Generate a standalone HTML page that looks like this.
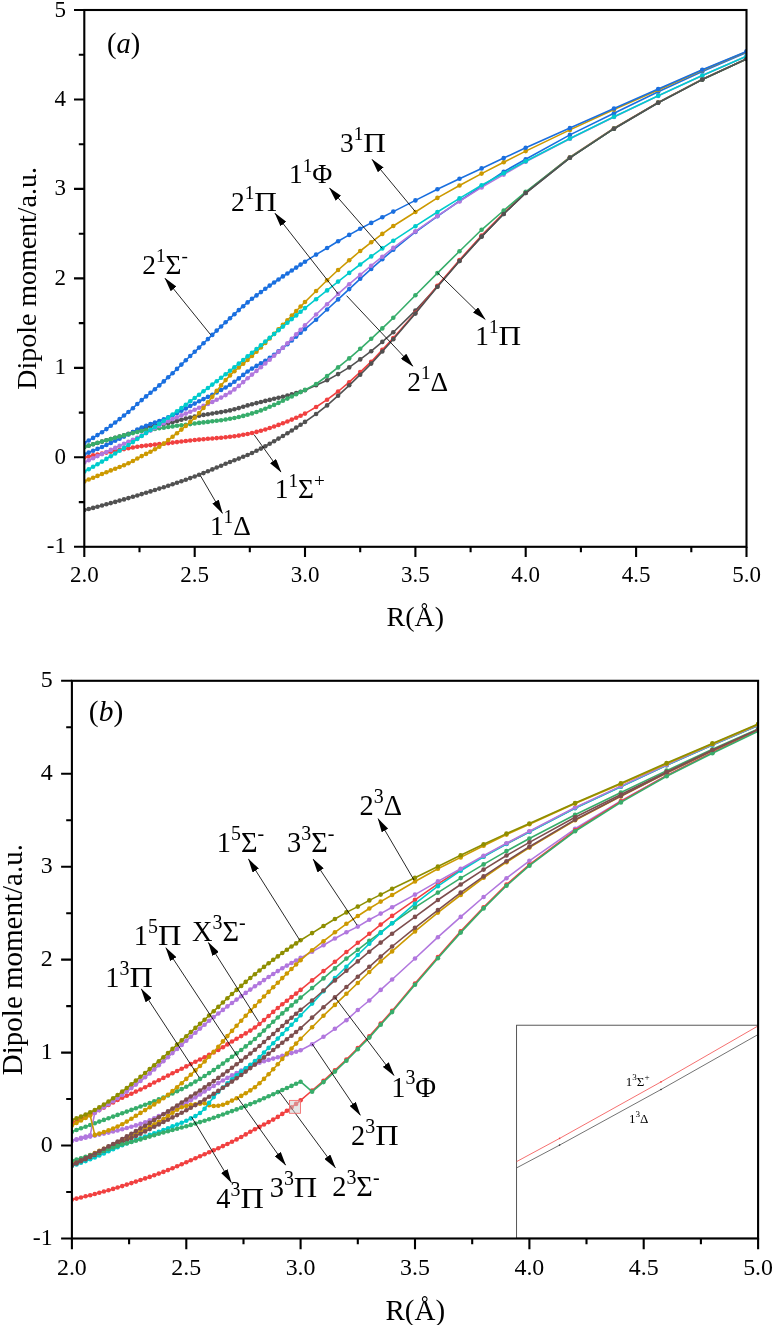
<!DOCTYPE html>
<html lang="en"><head><meta charset="utf-8"><title>Dipole moment curves</title>
<style>
html,body{margin:0;padding:0;background:#fff}
body{width:774px;height:1325px;overflow:hidden}
svg{display:block}
text{font-family:"Liberation Serif",serif;fill:#000}
.s{fill:none;stroke-width:1.6;stroke-linejoin:round}
.ax{stroke:#000;stroke-width:2.1;fill:none;stroke-linecap:butt}
.tk{font-size:23px}
.tkb{font-size:23.9px}
.ti{font-size:27.95px}
.tib{font-size:29px}
.lb{font-size:27.4px}
.lbb{font-size:28.4px}
.ar{stroke:#000;stroke-width:0.85;fill:none}
.in{font-size:13px}
</style></head><body>
<svg width="774" height="1325" viewBox="0 0 774 1325">
<rect width="774" height="1325" fill="#fff"/>
<defs>
<marker id="m_dg" markerUnits="userSpaceOnUse" markerWidth="6" markerHeight="6" refX="3" refY="3" viewBox="0 0 6 6"><circle cx="3" cy="3" r="2.3" fill="#515151"/></marker>
<marker id="m_red" markerUnits="userSpaceOnUse" markerWidth="6" markerHeight="6" refX="3" refY="3" viewBox="0 0 6 6"><circle cx="3" cy="3" r="2.3" fill="#F14040"/></marker>
<marker id="m_blue" markerUnits="userSpaceOnUse" markerWidth="6" markerHeight="6" refX="3" refY="3" viewBox="0 0 6 6"><circle cx="3" cy="3" r="2.3" fill="#1A6FDF"/></marker>
<marker id="m_green" markerUnits="userSpaceOnUse" markerWidth="6" markerHeight="6" refX="3" refY="3" viewBox="0 0 6 6"><circle cx="3" cy="3" r="2.3" fill="#37AD6B"/></marker>
<marker id="m_purple" markerUnits="userSpaceOnUse" markerWidth="6" markerHeight="6" refX="3" refY="3" viewBox="0 0 6 6"><circle cx="3" cy="3" r="2.3" fill="#B177DE"/></marker>
<marker id="m_gold" markerUnits="userSpaceOnUse" markerWidth="6" markerHeight="6" refX="3" refY="3" viewBox="0 0 6 6"><circle cx="3" cy="3" r="2.3" fill="#CC9900"/></marker>
<marker id="m_cyan" markerUnits="userSpaceOnUse" markerWidth="6" markerHeight="6" refX="3" refY="3" viewBox="0 0 6 6"><circle cx="3" cy="3" r="2.3" fill="#00CBCC"/></marker>
<marker id="m_brown" markerUnits="userSpaceOnUse" markerWidth="6" markerHeight="6" refX="3" refY="3" viewBox="0 0 6 6"><circle cx="3" cy="3" r="2.3" fill="#7D4E4E"/></marker>
<marker id="m_olive" markerUnits="userSpaceOnUse" markerWidth="6" markerHeight="6" refX="3" refY="3" viewBox="0 0 6 6"><circle cx="3" cy="3" r="2.3" fill="#8E8E00"/></marker>
<marker id="ah" markerUnits="userSpaceOnUse" markerWidth="14.2" markerHeight="7.4" refX="13.6" refY="3.7" viewBox="0 0 14.2 7.4" orient="auto"><path d="M0,0 L14.2,3.7 L0,7.4 Z" fill="#000"/></marker>
<clipPath id="ca"><rect x="84.3" y="10" width="662.2" height="536.8"/></clipPath>
<clipPath id="cb"><rect x="71.9" y="680.8" width="686.2" height="557.7"/></clipPath>
</defs>
<g id="panel-a">
<g clip-path="url(#ca)">
<polyline class="s" stroke="#515151" marker-start="url(#m_dg)" marker-mid="url(#m_dg)" marker-end="url(#m_dg)" points="84.3,447.1 88.7,445.7 93.1,444.3 97.5,443 102,441.6 106.4,440.3 110.8,439 115.2,437.8 119.6,436.5 124,435.2 128.4,433.7 132.9,432 137.3,430.3 141.7,428.6 146.1,427.2 150.5,426 154.9,425.2 159.3,424.5 163.8,423.9 168.2,423.1 172.6,422.1 177,421 181.4,419.8 185.8,418.6 190.2,417.5 194.7,416.5 199.1,415.7 203.5,414.9 207.9,414.2 212.3,413.5 216.7,412.8 221.1,412.1 225.6,411.3 230,410.4 234.4,409.3 238.8,408.1 243.2,406.7 247.6,405.4 252,404.2 256.5,403.1 260.9,402 265.3,400.9 269.7,399.9 274.1,398.8 278.5,397.8 282.9,396.7 287.4,395.5 291.8,394.3 296.2,393.1 300.6,391.7 305,390.2 316.1,385.3 327.1,380.2 338.1,374.1 349.2,367.4 360.2,359.4 371.2,351.2 382.3,341.9 393.3,332.2 415.4,310.6 437.4,286.6 459.5,261 481.6,236.6 503.7,214 525.7,193 569.9,157.8 614,128.7 658.2,102.8 702.3,79.6 746.5,59.1"/>
<polyline class="s" stroke="#F14040" marker-start="url(#m_red)" marker-mid="url(#m_red)" marker-end="url(#m_red)" points="84.3,457.5 88.7,456.5 93.1,455.4 97.5,454.5 102,453.5 106.4,452.6 110.8,451.7 115.2,450.8 119.6,449.9 124,449.1 128.4,448.3 132.9,447.5 137.3,446.7 141.7,446.1 146.1,445.6 150.5,445.1 154.9,444.6 159.3,444.1 163.8,443.7 168.2,443.2 172.6,442.6 177,442.1 181.4,441.5 185.8,441 190.2,440.5 194.7,440 199.1,439.6 203.5,439.2 207.9,438.8 212.3,438.5 216.7,438.1 221.1,437.7 225.6,437.3 230,436.8 234.4,436.2 238.8,435.6 243.2,434.8 247.6,434 252,433 256.5,431.9 260.9,430.8 265.3,429.5 269.7,428 274.1,426.5 278.5,424.9 282.9,423.2 287.4,421.5 291.8,419.6 296.2,417.7 300.6,415.7 305,413.6 316.1,407 327.1,399.7 338.1,391.5 349.2,382.2 360.2,372.1 371.2,361.7 382.3,349.9 393.3,338 415.4,312.7 437.4,285.8 459.5,260 481.6,235.6 503.7,213.1 525.7,192.3 569.9,157.2 614,128.2 658.2,102.4 702.3,79.3 746.5,58.9"/>
<polyline class="s" stroke="#1A6FDF" marker-start="url(#m_blue)" marker-mid="url(#m_blue)" marker-end="url(#m_blue)" points="84.3,454.3 88.7,452.6 93.1,450.8 97.5,448.9 102,447 106.4,445 110.8,442.9 115.2,440.8 119.6,438.7 124,436.6 128.4,434.4 132.9,432.1 137.3,429.6 141.7,427.5 146.1,425.7 150.5,424.1 154.9,422.6 159.3,421 163.8,419.3 168.2,417.4 172.6,415.3 177,413.1 181.4,410.7 185.8,408.4 190.2,406 194.7,403.6 199.1,401.3 203.5,399.1 207.9,396.9 212.3,394.7 216.7,392.4 221.1,390 225.6,387.5 230,384.8 234.4,381.8 238.8,378.4 243.2,374.9 247.6,371.5 252,368.6 256.5,365.9 260.9,363.4 265.3,360.8 269.7,357.9 274.1,354.7 278.5,351.4 282.9,347.8 287.4,344.2 291.8,340.4 296.2,336.6 300.6,332.8 305,329.1 316.1,319.7 327.1,309.5 338.1,299.4 349.2,289.1 360.2,278.8 371.2,268.9 382.3,259.2 393.3,249.8 415.4,232 437.4,216.3 459.5,201 481.6,186.5 503.7,171.7 525.7,159.2 569.9,134.9 614,113.2 658.2,91.8 702.3,71.5 746.5,52.5"/>
<polyline class="s" stroke="#37AD6B" marker-start="url(#m_green)" marker-mid="url(#m_green)" marker-end="url(#m_green)" points="84.3,447 88.7,445.6 93.1,444.2 97.5,442.8 102,441.5 106.4,440.2 110.8,439 115.2,437.7 119.6,436.5 124,435.4 128.4,434.2 132.9,433.1 137.3,432 141.7,431.1 146.1,430.3 150.5,429.6 154.9,428.9 159.3,428.3 163.8,427.7 168.2,427 172.6,426.4 177,425.8 181.4,425.2 185.8,424.7 190.2,424.1 194.7,423.5 199.1,422.9 203.5,422.4 207.9,421.9 212.3,421.3 216.7,420.8 221.1,420.2 225.6,419.5 230,418.8 234.4,418 238.8,417 243.2,415.9 247.6,414.7 252,413.4 256.5,412 260.9,410.4 265.3,408.7 269.7,406.8 274.1,404.9 278.5,402.9 282.9,400.8 287.4,398.6 291.8,396.5 296.2,394.3 300.6,392.1 305,389.9 316.1,384 327.1,376 338.1,367.4 349.2,358.4 360.2,348.8 371.2,338.8 382.3,328.4 393.3,317.8 415.4,295.2 437.4,273.1 459.5,251.2 481.6,229.8 503.7,210.5 525.7,191.8 569.9,157.5 614,128.5 658.2,102.6 702.3,79.4 746.5,58.9"/>
<polyline class="s" stroke="#B177DE" marker-start="url(#m_purple)" marker-mid="url(#m_purple)" marker-end="url(#m_purple)" points="84.3,462.4 88.7,460.3 93.1,458.2 97.5,456.1 102,454.1 106.4,452 110.8,449.9 115.2,447.9 119.6,445.8 124,443.8 128.4,441.7 132.9,439.7 137.3,437.7 141.7,435.5 146.1,433.1 150.5,430.6 154.9,428.1 159.3,425.6 163.8,423.3 168.2,421.1 172.6,419.1 177,417.2 181.4,415.4 185.8,413.6 190.2,411.7 194.7,409.8 199.1,407.8 203.5,405.9 207.9,403.9 212.3,401.9 216.7,399.8 221.1,397.6 225.6,395.1 230,392.5 234.4,389.4 238.8,385.9 243.2,382.1 247.6,378.3 252,374.6 256.5,370.9 260.9,367.2 265.3,363.5 269.7,359.7 274.1,355.8 278.5,351.8 282.9,347.7 287.4,343.3 291.8,338.8 296.2,334.3 300.6,329.7 305,325.3 316.1,314.5 327.1,304.2 338.1,293.9 349.2,284.2 360.2,274.9 371.2,265.7 382.3,256.7 393.3,247.9 415.4,231.4 437.4,215.9 459.5,201.4 481.6,187.4 503.7,174.6 525.7,161.8 569.9,138.8 614,117 658.2,95.9 702.3,75.6 746.5,56.3"/>
<polyline class="s" stroke="#CC9900" marker-start="url(#m_gold)" marker-mid="url(#m_gold)" marker-end="url(#m_gold)" points="84.3,481.4 88.7,479.5 93.1,477.7 97.5,475.9 102,474 106.4,472.2 110.8,470.4 115.2,468.7 119.6,467 124,465.2 128.4,463.2 132.9,461 137.3,458.5 141.7,456.1 146.1,453.9 150.5,451.7 154.9,449.3 159.3,446.7 163.8,443.6 168.2,440.1 172.6,436.7 177,433.2 181.4,429.6 185.8,425.9 190.2,422 194.7,417.8 199.1,413.1 203.5,408 207.9,402.4 212.3,396.7 216.7,390.9 221.1,385.4 225.6,380.1 230,375.4 234.4,371.2 238.8,367.5 243.2,363.8 247.6,360 252,355.9 256.5,351.7 260.9,347.4 265.3,343 269.7,338.5 274.1,333.9 278.5,329.4 282.9,324.8 287.4,320.2 291.8,315.6 296.2,311 300.6,306.5 305,302 316.1,291 327.1,280.3 338.1,270 349.2,260.3 360.2,251 371.2,242.3 382.3,233.9 393.3,226 415.4,212 437.4,197.9 459.5,185.5 481.6,173.6 503.7,162.2 525.7,151.1 569.9,129.9 614,109.6 658.2,90 702.3,70.3 746.5,51.8"/>
<polyline class="s" stroke="#00CBCC" marker-start="url(#m_cyan)" marker-mid="url(#m_cyan)" marker-end="url(#m_cyan)" points="84.3,471.6 88.7,469.2 93.1,466.7 97.5,464.2 102,461.6 106.4,458.9 110.8,456.2 115.2,453.5 119.6,450.7 124,447.9 128.4,445 132.9,442.1 137.3,439 141.7,436 146.1,433 150.5,430 154.9,427 159.3,423.9 163.8,420.8 168.2,417.7 172.6,414.5 177,411.3 181.4,408 185.8,404.7 190.2,401.3 194.7,398 199.1,394.7 203.5,391.3 207.9,388 212.3,384.6 216.7,381.2 221.1,377.8 225.6,374.3 230,370.8 234.4,367.2 238.8,363.6 243.2,360 247.6,356.3 252,352.7 256.5,349 260.9,345.3 265.3,341.5 269.7,337.8 274.1,334 278.5,330.3 282.9,326.6 287.4,322.8 291.8,319.1 296.2,315.4 300.6,311.7 305,308.1 316.1,299.2 327.1,290.4 338.1,281.6 349.2,272.9 360.2,264.5 371.2,256.4 382.3,248.4 393.3,240.7 415.4,226.2 437.4,212 459.5,198.4 481.6,185.3 503.7,173.3 525.7,161.3 569.9,138.5 614,116.8 658.2,95.7 702.3,75.5 746.5,56.2"/>
<polyline class="s" stroke="#515151" marker-start="url(#m_dg)" marker-mid="url(#m_dg)" marker-end="url(#m_dg)" points="84.3,510.1 88.7,509 93.1,507.9 97.5,506.7 102,505.5 106.4,504.3 110.8,503.1 115.2,501.9 119.6,500.6 124,499.4 128.4,498.1 132.9,496.8 137.3,495.5 141.7,494.1 146.1,492.8 150.5,491.4 154.9,490 159.3,488.6 163.8,487.2 168.2,485.8 172.6,484.3 177,482.8 181.4,481.3 185.8,479.7 190.2,478.1 194.7,476.5 199.1,474.8 203.5,473.1 207.9,471.3 212.3,469.4 216.7,467.5 221.1,465.7 225.6,463.8 230,462 234.4,460.3 238.8,458.6 243.2,456.8 247.6,455 252,453 256.5,450.8 260.9,448.6 265.3,446.2 269.7,443.8 274.1,441.2 278.5,438.6 282.9,436 287.4,433.2 291.8,430.5 296.2,427.6 300.6,424.8 305,421.9 316.1,414 327.1,405.4 338.1,395.7 349.2,385.3 360.2,374.7 371.2,363.6 382.3,351.5 393.3,339.2 415.4,313.6 437.4,286.8 459.5,261 481.6,236.6 503.7,214 525.7,193 569.9,157.8 614,128.7 658.2,102.8 702.3,79.6 746.5,59.1"/>
<polyline class="s" stroke="#1A6FDF" marker-start="url(#m_blue)" marker-mid="url(#m_blue)" marker-end="url(#m_blue)" points="84.3,443 88.7,440.5 93.1,437.9 97.5,435.1 102,432.2 106.4,429.1 110.8,425.8 115.2,422.5 119.6,419.1 124,415.5 128.4,412 132.9,408.2 137.3,404 141.7,400.1 146.1,396.4 150.5,392.8 154.9,389.2 159.3,385.4 163.8,381.4 168.2,377.3 172.6,373.2 177,368.9 181.4,364.6 185.8,360.3 190.2,356 194.7,351.8 199.1,347.6 203.5,343.3 207.9,339.1 212.3,334.9 216.7,330.6 221.1,326.5 225.6,322.3 230,318.3 234.4,314.2 238.8,310.1 243.2,306.2 247.6,302.4 252,298.8 256.5,295.4 260.9,292.1 265.3,288.8 269.7,285.6 274.1,282.5 278.5,279.5 282.9,276.4 287.4,273.5 291.8,270.5 296.2,267.6 300.6,264.6 305,261.7 316.1,254.6 327.1,248 338.1,241.3 349.2,234.9 360.2,228.7 371.2,222.9 382.3,217.2 393.3,211.6 415.4,200.4 437.4,189.3 459.5,178.7 481.6,168.4 503.7,158.1 525.7,147.7 569.9,128.1 614,108.5 658.2,89.1 702.3,69.8 746.5,51.4"/>
</g>
<line class="ar" x1="210.5" y1="334.6" x2="165" y2="278.3" marker-end="url(#ah)"/>
<line class="ar" x1="338.1" y1="293.8" x2="275" y2="213.3" marker-end="url(#ah)"/>
<line class="ar" x1="346.6" y1="295.7" x2="412.9" y2="366.2" marker-end="url(#ah)"/>
<line class="ar" x1="382.2" y1="248.4" x2="329.5" y2="188" marker-end="url(#ah)"/>
<line class="ar" x1="415.4" y1="211.7" x2="372.1" y2="159.4" marker-end="url(#ah)"/>
<line class="ar" x1="437.4" y1="272.6" x2="485.2" y2="319.4" marker-end="url(#ah)"/>
<line class="ar" x1="254" y1="434.6" x2="281" y2="472.1" marker-end="url(#ah)"/>
<line class="ar" x1="200.5" y1="475.8" x2="222.4" y2="513.3" marker-end="url(#ah)"/>
<rect class="ax" x="84.3" y="10" width="662.2" height="536.8"/>
<path class="ax" d="M84.3,546.8 h-10.3 M84.3,502.1 h-5.5 M84.3,457.3 h-10.3 M84.3,412.6 h-5.5 M84.3,367.9 h-10.3 M84.3,323.1 h-5.5 M84.3,278.4 h-10.3 M84.3,233.7 h-5.5 M84.3,188.9 h-10.3 M84.3,144.2 h-5.5 M84.3,99.5 h-10.3 M84.3,54.7 h-5.5 M84.3,10 h-10.3 M84.3,546.8 v10.3 M139.5,546.8 v5.5 M194.7,546.8 v10.3 M249.8,546.8 v5.5 M305,546.8 v10.3 M360.2,546.8 v5.5 M415.4,546.8 v10.3 M470.6,546.8 v5.5 M525.7,546.8 v10.3 M580.9,546.8 v5.5 M636.1,546.8 v10.3 M691.3,546.8 v5.5 M746.5,546.8 v10.3"/>
<text class="tk" text-anchor="end" x="66" y="553.3">-1</text>
<text class="tk" text-anchor="end" x="66" y="463.8">0</text>
<text class="tk" text-anchor="end" x="66" y="374.4">1</text>
<text class="tk" text-anchor="end" x="66" y="284.9">2</text>
<text class="tk" text-anchor="end" x="66" y="195.4">3</text>
<text class="tk" text-anchor="end" x="66" y="106">4</text>
<text class="tk" text-anchor="end" x="66" y="16.5">5</text>
<text class="tk" text-anchor="middle" x="84.3" y="582">2.0</text>
<text class="tk" text-anchor="middle" x="194.7" y="582">2.5</text>
<text class="tk" text-anchor="middle" x="305" y="582">3.0</text>
<text class="tk" text-anchor="middle" x="415.4" y="582">3.5</text>
<text class="tk" text-anchor="middle" x="525.7" y="582">4.0</text>
<text class="tk" text-anchor="middle" x="636.1" y="582">4.5</text>
<text class="tk" text-anchor="middle" x="746.5" y="582">5.0</text>
<text class="ti" text-anchor="middle" x="415.3" y="625.5">R(Å)</text>
<text class="ti" text-anchor="middle" transform="translate(36,278.4) rotate(-90)">Dipole moment/a.u.</text>
<text x="107" y="52.6" font-size="28.5">(<tspan font-style="italic">a</tspan>)</text>
<text class="lb" x="340" y="151.9">3<tspan dy="-11.8" font-size="19.2">1</tspan><tspan dy="11.8" textLength="22.6" lengthAdjust="spacingAndGlyphs">Π</tspan></text>
<text class="lb" x="289" y="183.3">1<tspan dy="-11.8" font-size="19.2">1</tspan><tspan dy="11.8">Φ</tspan></text>
<text class="lb" x="231" y="210.8">2<tspan dy="-11.8" font-size="19.2">1</tspan><tspan dy="11.8" textLength="22.6" lengthAdjust="spacingAndGlyphs">Π</tspan></text>
<text class="lb" x="142.3" y="274">2<tspan dy="-11.8" font-size="19.2">1</tspan><tspan dy="11.8">Σ</tspan><tspan dy="-11.8" font-size="19.2">-</tspan></text>
<text class="lb" x="475.3" y="344.9">1<tspan dy="-11.8" font-size="19.2">1</tspan><tspan dy="11.8" textLength="22.6" lengthAdjust="spacingAndGlyphs">Π</tspan></text>
<text class="lb" x="407.3" y="391.2">2<tspan dy="-11.8" font-size="19.2">1</tspan><tspan dy="11.8">Δ</tspan></text>
<text class="lb" x="274.8" y="498.3">1<tspan dy="-11.8" font-size="19.2">1</tspan><tspan dy="11.8">Σ</tspan><tspan dy="-11.8" font-size="19.2">+</tspan></text>
<text class="lb" x="209.9" y="534.7">1<tspan dy="-11.8" font-size="19.2">1</tspan><tspan dy="11.8">Δ</tspan></text>
</g>
<g id="panel-b">
<g clip-path="url(#cb)">
<polyline class="s" stroke="#F14040" marker-start="url(#m_red)" marker-mid="url(#m_red)" marker-end="url(#m_red)" points="71.9,1122.8 76.5,1120.9 81,1118.9 85.6,1116.9 90.2,1114.7 94.8,1112.5 99.3,1110.1 103.9,1107.6 108.5,1105 113.1,1102.4 117.6,1100 122.2,1097.8 126.8,1095.7 131.4,1093.7 135.9,1091.6 140.5,1089.5 145.1,1087.2 149.7,1084.9 154.2,1082.5 158.8,1080.2 163.4,1077.9 168,1075.6 172.5,1073.3 177.1,1071 181.7,1068.7 186.3,1066.4 190.8,1064.1 195.4,1061.8 200,1059.5 204.6,1057.2 209.1,1054.8 213.7,1052.4 218.3,1049.9 222.9,1047.2 227.4,1044.4 232,1041.5 236.6,1038.8 241.2,1036.1 245.7,1033.4 250.3,1030.6 254.9,1027.5 259.5,1024 264,1020.1 268.6,1016 273.2,1011.9 277.8,1008 282.3,1004.3 286.9,1000.7 291.5,997.1 296.1,993.6 300.6,989.9 312.1,980.4 323.5,971.1 334.9,961.8 346.4,952 357.8,942.8 369.3,933.8 380.7,924.6 392.1,915.9 415,899.8 437.9,883.9 460.7,869.8 483.6,856.4 506.5,843.8 529.4,831.8 575.1,808 620.9,786.6 666.6,765.2 712.4,745 758.1,725.5"/>
<polyline class="s" stroke="#37AD6B" marker-start="url(#m_green)" marker-mid="url(#m_green)" marker-end="url(#m_green)" points="71.9,1131.7 76.5,1130 81,1128.3 85.6,1126.7 90.2,1125 94.8,1123.3 99.3,1121.6 103.9,1119.9 108.5,1118.3 113.1,1116.6 117.6,1114.9 122.2,1113.2 126.8,1111.6 131.4,1109.9 135.9,1108.2 140.5,1106.5 145.1,1104.8 149.7,1103 154.2,1101.2 158.8,1099.4 163.4,1097.5 168,1095.5 172.5,1093.4 177.1,1091.3 181.7,1089.1 186.3,1086.7 190.8,1084.2 195.4,1081.6 200,1078.9 204.6,1076 209.1,1073.1 213.7,1070.1 218.3,1066.9 222.9,1063.6 227.4,1060.2 232,1056.8 236.6,1053.4 241.2,1050 245.7,1046.4 250.3,1042.8 254.9,1039 259.5,1034.9 264,1030.6 268.6,1026.2 273.2,1021.8 277.8,1017.5 282.3,1013.4 286.9,1009.4 291.5,1005.4 296.1,1001.5 300.6,997.6 312.1,988.1 323.5,978.4 334.9,968.4 346.4,958.6 357.8,949.8 369.3,940.8 380.7,932.4 392.1,923.3 415,907.4 437.9,892.6 460.7,878.1 483.6,864.4 506.5,851.1 529.4,838.5 575.1,814.7 620.9,792.5 666.6,770.6 712.4,749.3 758.1,729"/>
<polyline class="s" stroke="#B177DE" marker-start="url(#m_purple)" marker-mid="url(#m_purple)" marker-end="url(#m_purple)" points="71.9,1140.7 76.5,1139.7 81,1138.7 85.6,1137.7 90.2,1136.6 94.8,1135.6 99.3,1134.6 103.9,1133.6 108.5,1132.6 113.1,1131.5 117.6,1130.4 122.2,1129.2 126.8,1128 131.4,1126.8 135.9,1125.4 140.5,1123.9 145.1,1122.2 149.7,1120.3 154.2,1118.2 158.8,1116.1 163.4,1114 168,1111.9 172.5,1109.8 177.1,1107.7 181.7,1105.4 186.3,1103 190.8,1100.3 195.4,1097.5 200,1094.5 204.6,1091.5 209.1,1088.6 213.7,1085.9 218.3,1083.1 222.9,1080.5 227.4,1077.9 232,1075.4 236.6,1073 241.2,1070.5 245.7,1068.2 250.3,1066.1 254.9,1064.2 259.5,1062.7 264,1061.3 268.6,1059.9 273.2,1058.6 277.8,1057.2 282.3,1055.8 286.9,1054.5 291.5,1053.1 296.1,1051.8 300.6,1050.2 312.1,1044.2 323.5,1036.8 334.9,1028.8 346.4,1020.2 357.8,1010 369.3,1000.5 380.7,989.9 392.1,979.5 415,958.5 437.9,937.2 460.7,916.9 483.6,897 506.5,878.2 529.4,860.8 575.1,828.8 620.9,801 666.6,775.4 712.4,752.4 758.1,730.4"/>
<polyline class="s" stroke="#CC9900" marker-start="url(#m_gold)" marker-mid="url(#m_gold)" marker-end="url(#m_gold)" points="71.9,1164 76.5,1161.7 81,1159.5 85.6,1157.3 90.2,1155.1 94.8,1153 99.3,1150.9 103.9,1148.9 108.5,1146.9 113.1,1144.9 117.6,1142.8 122.2,1140.6 126.8,1138.4 131.4,1136.1 135.9,1133.8 140.5,1131.4 145.1,1129 149.7,1126.7 154.2,1124.2 158.8,1121.7 163.4,1119 168,1115.9 172.5,1112.7 177.1,1109.7 181.7,1107.2 186.3,1106 190.8,1104.9 195.4,1104.3 200,1103.7 204.6,1103.3 209.1,1105.3 213.7,1106 218.3,1105.8 222.9,1104.7 227.4,1102.9 232,1100.6 236.6,1098.3 241.2,1095.9 245.7,1093.3 250.3,1090.4 254.9,1087.2 259.5,1083.3 264,1078.9 268.6,1074.3 273.2,1069.3 277.8,1064.2 282.3,1058.9 286.9,1053.6 291.5,1048.5 296.1,1043.6 300.6,1038.8 312.1,1027.2 323.5,1015.7 334.9,1004.9 346.4,993.8 357.8,983 369.3,972 380.7,961.4 392.1,951.4 415,931.4 437.9,912.6 460.7,895 483.6,877.8 506.5,862.2 529.4,847.6 575.1,820.2 620.9,796.4 666.6,773.1 712.4,750.9 758.1,730"/>
<polyline class="s" stroke="#00CBCC" marker-start="url(#m_cyan)" marker-mid="url(#m_cyan)" marker-end="url(#m_cyan)" points="71.9,1166 76.5,1164.4 81,1162.8 85.6,1161.1 90.2,1159.3 94.8,1157.5 99.3,1155.5 103.9,1153.5 108.5,1151.3 113.1,1149.2 117.6,1147.2 122.2,1145.3 126.8,1143.5 131.4,1141.7 135.9,1139.9 140.5,1138.2 145.1,1136.5 149.7,1134.9 154.2,1133.3 158.8,1131.7 163.4,1130 168,1128.2 172.5,1126.4 177.1,1124.6 181.7,1122.7 186.3,1120.8 190.8,1118.4 195.4,1116.1 200,1113 204.6,1108.8 209.1,1102.9 213.7,1097.1 218.3,1092 222.9,1087.6 227.4,1083.4 232,1079.3 236.6,1075.3 241.2,1071.6 245.7,1068.2 250.3,1064.8 254.9,1061.1 259.5,1057 264,1052.5 268.6,1047.9 273.2,1043.2 277.8,1038.6 282.3,1034 286.9,1029.3 291.5,1024.7 296.1,1020 300.6,1015.3 312.1,1003.6 323.5,991.2 334.9,978 346.4,966.8 357.8,955 369.3,943.8 380.7,932.9 392.1,923.3 415,903.7 437.9,886.2 460.7,870.7 483.6,856.8 506.5,844 529.4,832 575.1,808.2 620.9,786.8 666.6,765.3 712.4,745 758.1,725.5"/>
<polyline class="s" stroke="#7D4E4E" marker-start="url(#m_brown)" marker-mid="url(#m_brown)" marker-end="url(#m_brown)" points="71.9,1165.5 76.5,1163.4 81,1161.3 85.6,1159.2 90.2,1157.1 94.8,1155 99.3,1152.9 103.9,1150.8 108.5,1148.7 113.1,1146.6 117.6,1144.5 122.2,1142.4 126.8,1140.2 131.4,1138.1 135.9,1135.9 140.5,1133.7 145.1,1131.4 149.7,1129.1 154.2,1126.7 158.8,1124.4 163.4,1122 168,1119.7 172.5,1117.4 177.1,1115.1 181.7,1112.8 186.3,1110.3 190.8,1107.7 195.4,1105.1 200,1102.3 204.6,1099.5 209.1,1096.7 213.7,1093.8 218.3,1090.9 222.9,1087.8 227.4,1084.8 232,1081.6 236.6,1078.3 241.2,1075 245.7,1071.6 250.3,1068.1 254.9,1064.6 259.5,1061 264,1057.4 268.6,1053.7 273.2,1050 277.8,1046.3 282.3,1042.7 286.9,1039.2 291.5,1035.7 296.1,1032 300.6,1028.2 312.1,1017.6 323.5,1007.2 334.9,997.4 346.4,987 357.8,976.7 369.3,966.8 380.7,956.6 392.1,946.5 415,927.8 437.9,910.1 460.7,892.6 483.6,876.4 506.5,861.2 529.4,846.8 575.1,819.7 620.9,796 666.6,772.8 712.4,750.6 758.1,729.8"/>
<polyline class="s" stroke="#F14040" marker-start="url(#m_red)" marker-mid="url(#m_red)" marker-end="url(#m_red)" points="71.9,1199.6 76.5,1198.6 81,1197.5 85.6,1196.3 90.2,1195.2 94.8,1194 99.3,1192.8 103.9,1191.5 108.5,1190.2 113.1,1188.9 117.6,1187.5 122.2,1186.1 126.8,1184.6 131.4,1183.1 135.9,1181.6 140.5,1180 145.1,1178.4 149.7,1176.9 154.2,1175.3 158.8,1173.6 163.4,1171.9 168,1170.1 172.5,1168.2 177.1,1166.3 181.7,1164.3 186.3,1162.3 190.8,1160.3 195.4,1158.3 200,1156.3 204.6,1154.2 209.1,1152.2 213.7,1150.2 218.3,1148.2 222.9,1146.1 227.4,1144 232,1141.8 236.6,1139.4 241.2,1137 245.7,1134.4 250.3,1131.8 254.9,1129.3 259.5,1126.9 264,1124.5 268.6,1122.1 273.2,1119.6 277.8,1116.9 282.3,1113.9 286.9,1110.8 291.5,1107.4 296.1,1103.9 300.6,1100.3 312.1,1090.5 323.5,1080.9 334.9,1070.4 346.4,1059.5 357.8,1048 369.3,1036.4 380.7,1023.6 392.1,1010.9 415,983.5 437.9,957 460.7,931.4 483.6,907.2 506.5,884.6 529.4,864.7 575.1,830.3 620.9,801.4 666.6,775.7 712.4,752.6 758.1,730.6"/>
<polyline class="s" stroke="#37AD6B" marker-start="url(#m_green)" marker-mid="url(#m_green)" marker-end="url(#m_green)" points="71.9,1160.7 76.5,1159.5 81,1158.2 85.6,1156.8 90.2,1155.4 94.8,1154 99.3,1152.4 103.9,1150.8 108.5,1149.1 113.1,1147.4 117.6,1145.9 122.2,1144.5 126.8,1143.2 131.4,1142 135.9,1140.7 140.5,1139.4 145.1,1138 149.7,1136.6 154.2,1135.2 158.8,1133.8 163.4,1132.5 168,1131.2 172.5,1130 177.1,1128.7 181.7,1127.5 186.3,1126.2 190.8,1124.9 195.4,1123.5 200,1122.1 204.6,1120.7 209.1,1119.2 213.7,1117.7 218.3,1116.1 222.9,1114.5 227.4,1112.8 232,1111.1 236.6,1109.4 241.2,1107.7 245.7,1105.9 250.3,1104.1 254.9,1102.2 259.5,1100.3 264,1098.3 268.6,1096.2 273.2,1094.2 277.8,1092.1 282.3,1090 286.9,1088 291.5,1085.9 296.1,1083.8 300.6,1081.7 312.1,1091.7 323.5,1082.1 334.9,1071.6 346.4,1060.7 357.8,1049.2 369.3,1037.6 380.7,1024.8 392.1,1012.1 415,984.7 437.9,958.2 460.7,932.6 483.6,908.4 506.5,885.8 529.4,865.7 575.1,831.3 620.9,802.4 666.6,776.3 712.4,753.2 758.1,731.2"/>
<polyline class="s" stroke="#B177DE" marker-start="url(#m_purple)" marker-mid="url(#m_purple)" marker-end="url(#m_purple)" points="71.9,1140.7 76.5,1139.3 81,1137.9 85.6,1136.5 90.2,1135.2 94.8,1112.9 99.3,1110.1 103.9,1107.2 108.5,1104.3 113.1,1101.2 117.6,1098.1 122.2,1094.9 126.8,1091.6 131.4,1088.1 135.9,1084.6 140.5,1081 145.1,1077.3 149.7,1073.4 154.2,1069.4 158.8,1065.3 163.4,1061.3 168,1057.2 172.5,1053.1 177.1,1049 181.7,1044.9 186.3,1040.8 190.8,1036.7 195.4,1032.7 200,1028.6 204.6,1024.7 209.1,1020.8 213.7,1017.1 218.3,1013.5 222.9,1009.9 227.4,1006.4 232,1003 236.6,999.6 241.2,996.3 245.7,992.9 250.3,989.6 254.9,986.3 259.5,983.2 264,980.1 268.6,977 273.2,974 277.8,971.1 282.3,968.3 286.9,965.6 291.5,963 296.1,960.5 300.6,957.9 312.1,951.7 323.5,945.2 334.9,938.5 346.4,932.3 357.8,926.6 369.3,919.8 380.7,913.6 392.1,907.2 415,894.6 437.9,881.4 460.7,868.8 483.6,855.8 506.5,843.3 529.4,831.3 575.1,807.5 620.9,786.1 666.6,764.7 712.4,744.5 758.1,725"/>
<polyline class="s" stroke="#CC9900" marker-start="url(#m_gold)" marker-mid="url(#m_gold)" marker-end="url(#m_gold)" points="71.9,1125.5 76.5,1123 81,1120.5 85.6,1118 90.2,1115.5 94.8,1134.9 99.3,1133.6 103.9,1132.1 108.5,1130.4 113.1,1128.5 117.6,1126.5 122.2,1124.2 126.8,1121.6 131.4,1118.7 135.9,1115.8 140.5,1112.9 145.1,1110.1 149.7,1107.3 154.2,1104.4 158.8,1101.4 163.4,1098.3 168,1094.8 172.5,1091.1 177.1,1087.2 181.7,1083.2 186.3,1078.9 190.8,1074.7 195.4,1070.4 200,1066 204.6,1061.5 209.1,1056.8 213.7,1051.8 218.3,1046.7 222.9,1041.4 227.4,1036.1 232,1030.9 236.6,1025.8 241.2,1020.8 245.7,1015.8 250.3,1010.9 254.9,1006 259.5,1001.2 264,996.5 268.6,991.9 273.2,987.3 277.8,982.7 282.3,978.1 286.9,973.5 291.5,969 296.1,964.5 300.6,960.2 312.1,950.2 323.5,941.2 334.9,932.3 346.4,923.8 357.8,916 369.3,908.5 380.7,901.6 392.1,895 415,881.5 437.9,868.8 460.7,857.4 483.6,845.7 506.5,834.6 529.4,824.3 575.1,803.6 620.9,783.9 666.6,763.7 712.4,744 758.1,724.6"/>
<polyline class="s" stroke="#7D4E4E" marker-start="url(#m_brown)" marker-mid="url(#m_brown)" marker-end="url(#m_brown)" points="71.9,1164.6 76.5,1162.5 81,1160.3 85.6,1158 90.2,1155.8 94.8,1153.5 99.3,1151.2 103.9,1148.8 108.5,1146.4 113.1,1144 117.6,1141.5 122.2,1139 126.8,1136.4 131.4,1133.8 135.9,1131.1 140.5,1128.4 145.1,1125.7 149.7,1122.9 154.2,1120 158.8,1117.2 163.4,1114.3 168,1111.4 172.5,1108.5 177.1,1105.5 181.7,1102.5 186.3,1099.5 190.8,1096.5 195.4,1093.5 200,1090.5 204.6,1087.4 209.1,1084.3 213.7,1081.1 218.3,1077.9 222.9,1074.6 227.4,1071.2 232,1067.8 236.6,1064.3 241.2,1060.8 245.7,1057.2 250.3,1053.5 254.9,1049.8 259.5,1046 264,1042 268.6,1038 273.2,1034 277.8,1030 282.3,1026 286.9,1021.9 291.5,1017.8 296.1,1013.7 300.6,1009.8 312.1,1000.5 323.5,990.5 334.9,980.4 346.4,970.8 357.8,961.4 369.3,951.7 380.7,942.6 392.1,933.7 415,916.9 437.9,900 460.7,884.5 483.6,869.6 506.5,855.5 529.4,842.4 575.1,817.2 620.9,794.5 666.6,771.9 712.4,750 758.1,729.5"/>
<polyline class="s" stroke="#8E8E00" marker-start="url(#m_olive)" marker-mid="url(#m_olive)" marker-end="url(#m_olive)" points="71.9,1120 76.5,1118.4 81,1116.6 85.6,1114.5 90.2,1112.3 94.8,1110 99.3,1107.4 103.9,1104.6 108.5,1101.5 113.1,1098.3 117.6,1095 122.2,1091.6 126.8,1088 131.4,1084.3 135.9,1080.6 140.5,1076.8 145.1,1073 149.7,1069.1 154.2,1065.2 158.8,1061.2 163.4,1057.2 168,1053.1 172.5,1048.9 177.1,1044.6 181.7,1040.4 186.3,1036.2 190.8,1032.1 195.4,1027.9 200,1023.8 204.6,1019.7 209.1,1015.5 213.7,1011.2 218.3,1006.9 222.9,1002.5 227.4,998.2 232,994 236.6,989.9 241.2,985.9 245.7,981.9 250.3,978 254.9,974.2 259.5,970.5 264,966.9 268.6,963.3 273.2,959.8 277.8,956.4 282.3,953 286.9,949.7 291.5,946.5 296.1,943.4 300.6,940.3 312.1,933.1 323.5,926 334.9,919 346.4,912.4 357.8,906.6 369.3,900.4 380.7,894.6 392.1,888.8 415,877.7 437.9,866.5 460.7,855.2 483.6,844.3 506.5,833.6 529.4,823.6 575.1,803 620.9,783.3 666.6,763.1 712.4,743.4 758.1,724"/>
</g>
<line class="ar" x1="414.1" y1="880.2" x2="378.1" y2="818.7" marker-end="url(#ah)"/>
<line class="ar" x1="299.9" y1="940.4" x2="248.5" y2="859.1" marker-end="url(#ah)"/>
<line class="ar" x1="357" y1="925" x2="313.1" y2="859.1" marker-end="url(#ah)"/>
<line class="ar" x1="240.1" y1="1060.3" x2="165.9" y2="947.8" marker-end="url(#ah)"/>
<line class="ar" x1="258.5" y1="1021.5" x2="208.4" y2="942.6" marker-end="url(#ah)"/>
<line class="ar" x1="199.2" y1="1077.4" x2="141.3" y2="988.9" marker-end="url(#ah)"/>
<line class="ar" x1="335" y1="997.4" x2="394" y2="1075.4" marker-end="url(#ah)"/>
<line class="ar" x1="312.2" y1="1044" x2="360.3" y2="1115.2" marker-end="url(#ah)"/>
<line class="ar" x1="279.3" y1="1091.6" x2="335.4" y2="1167.7" marker-end="url(#ah)"/>
<line class="ar" x1="237.5" y1="1097.5" x2="285.6" y2="1165.1" marker-end="url(#ah)"/>
<line class="ar" x1="191.5" y1="1116.8" x2="231.3" y2="1182.6" marker-end="url(#ah)"/>
<rect x="516.6" y="1025.2" width="241.5" height="213" fill="#fff" stroke="#3a3a3a" stroke-width="0.85"/>
<polyline fill="none" stroke="#F14040" stroke-width="0.75" points="516.6,1161.6 559.6,1138.4 661,1081.9 757.6,1026.2"/>
<polyline fill="none" stroke="#444" stroke-width="0.75" points="516.6,1167.9 559.6,1145.1 661,1089.5 757.6,1034.8"/>
<circle cx="559.6" cy="1138.4" r="0.8" fill="#F14040"/><circle cx="661" cy="1081.9" r="0.8" fill="#F14040"/><circle cx="559.6" cy="1145.1" r="0.8" fill="#333"/><circle cx="661" cy="1089.5" r="0.8" fill="#333"/>
<text class="in" x="625.8" y="1085.8">1<tspan dy="-5.6" font-size="9.1">3</tspan><tspan dy="5.6">Σ</tspan><tspan dy="-5.6" font-size="9.1">+</tspan></text>
<text class="in" x="629" y="1122.5">1<tspan dy="-5.6" font-size="9.1">3</tspan><tspan dy="5.6">Δ</tspan></text>
<rect x="289.5" y="1100.4" width="11" height="12.9" fill="rgba(205,205,205,0.5)" stroke="#F27070" stroke-width="0.9"/>
<rect class="ax" x="71.9" y="680.8" width="686.2" height="557.7"/>
<path class="ax" d="M71.9,1238.5 h-10.8 M71.9,1192 h-5.7 M71.9,1145.5 h-10.8 M71.9,1099 h-5.7 M71.9,1052.6 h-10.8 M71.9,1006.1 h-5.7 M71.9,959.6 h-10.8 M71.9,913.2 h-5.7 M71.9,866.7 h-10.8 M71.9,820.2 h-5.7 M71.9,773.7 h-10.8 M71.9,727.3 h-5.7 M71.9,680.8 h-10.8 M71.9,1238.5 v10.8 M129.1,1238.5 v5.7 M186.3,1238.5 v10.8 M243.5,1238.5 v5.7 M300.6,1238.5 v10.8 M357.8,1238.5 v5.7 M415,1238.5 v10.8 M472.2,1238.5 v5.7 M529.4,1238.5 v10.8 M586.5,1238.5 v5.7 M643.7,1238.5 v10.8 M700.9,1238.5 v5.7 M758.1,1238.5 v10.8"/>
<text class="tkb" text-anchor="end" x="52.6" y="1245">-1</text>
<text class="tkb" text-anchor="end" x="52.6" y="1152">0</text>
<text class="tkb" text-anchor="end" x="52.6" y="1059.1">1</text>
<text class="tkb" text-anchor="end" x="52.6" y="966.1">2</text>
<text class="tkb" text-anchor="end" x="52.6" y="873.2">3</text>
<text class="tkb" text-anchor="end" x="52.6" y="780.2">4</text>
<text class="tkb" text-anchor="end" x="52.6" y="687.3">5</text>
<text class="tkb" text-anchor="middle" x="71.9" y="1274.9">2.0</text>
<text class="tkb" text-anchor="middle" x="186.3" y="1274.9">2.5</text>
<text class="tkb" text-anchor="middle" x="300.6" y="1274.9">3.0</text>
<text class="tkb" text-anchor="middle" x="415" y="1274.9">3.5</text>
<text class="tkb" text-anchor="middle" x="529.4" y="1274.9">4.0</text>
<text class="tkb" text-anchor="middle" x="643.7" y="1274.9">4.5</text>
<text class="tkb" text-anchor="middle" x="758.1" y="1274.9">5.0</text>
<text class="tib" text-anchor="middle" x="415.3" y="1320.2">R(Å)</text>
<text class="tib" text-anchor="middle" transform="translate(21.9,959.6) rotate(-90)">Dipole moment/a.u.</text>
<text x="88.8" y="720.7" font-size="29.5">(<tspan font-style="italic">b</tspan>)</text>
<text class="lbb" x="359.5" y="815.1">2<tspan dy="-12.2" font-size="19.9">3</tspan><tspan dy="12.2">Δ</tspan></text>
<text class="lbb" x="216.8" y="852.4">1<tspan dy="-12.2" font-size="19.9">5</tspan><tspan dy="12.2">Σ</tspan><tspan dy="-12.2" font-size="19.9">-</tspan></text>
<text class="lbb" x="287" y="852.1">3<tspan dy="-12.2" font-size="19.9">3</tspan><tspan dy="12.2">Σ</tspan><tspan dy="-12.2" font-size="19.9">-</tspan></text>
<text class="lbb" x="133.8" y="945.1">1<tspan dy="-12.2" font-size="19.9">5</tspan><tspan dy="12.2" textLength="23.4" lengthAdjust="spacingAndGlyphs">Π</tspan></text>
<text class="lbb" x="192" y="941">X<tspan dy="-12.2" font-size="19.9">3</tspan><tspan dy="12.2">Σ</tspan><tspan dy="-12.2" font-size="19.9">-</tspan></text>
<text class="lbb" x="105.3" y="987.1">1<tspan dy="-12.2" font-size="19.9">3</tspan><tspan dy="12.2" textLength="23.4" lengthAdjust="spacingAndGlyphs">Π</tspan></text>
<text class="lbb" x="391.2" y="1096.6">1<tspan dy="-12.2" font-size="19.9">3</tspan><tspan dy="12.2">Φ</tspan></text>
<text class="lbb" x="351" y="1144.8">2<tspan dy="-12.2" font-size="19.9">3</tspan><tspan dy="12.2" textLength="23.4" lengthAdjust="spacingAndGlyphs">Π</tspan></text>
<text class="lbb" x="332.2" y="1196.4">2<tspan dy="-12.2" font-size="19.9">3</tspan><tspan dy="12.2">Σ</tspan><tspan dy="-12.2" font-size="19.9">-</tspan></text>
<text class="lbb" x="269.7" y="1196.8">3<tspan dy="-12.2" font-size="19.9">3</tspan><tspan dy="12.2" textLength="23.4" lengthAdjust="spacingAndGlyphs">Π</tspan></text>
<text class="lbb" x="216.3" y="1207.7">4<tspan dy="-12.2" font-size="19.9">3</tspan><tspan dy="12.2" textLength="23.4" lengthAdjust="spacingAndGlyphs">Π</tspan></text>
</g>
</svg></body></html>
